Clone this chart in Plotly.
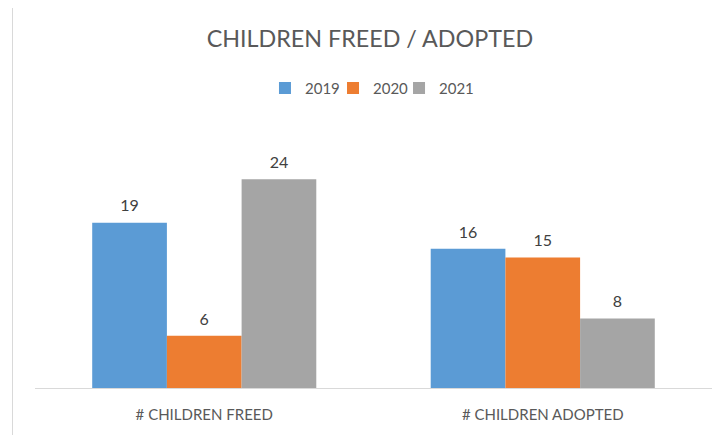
import plotly.graph_objects as go

categories = ["# CHILDREN FREED", "# CHILDREN ADOPTED"]
series_names = ["2019", "2020", "2021"]
values_2019 = [19, 16]
values_2020 = [6, 15]
values_2021 = [24, 8]
colors = ["#5b9bd5", "#ed7d31", "#a5a5a5"]

series_values = [values_2019, values_2020, values_2021]
FONT = "Lato, 'Liberation Sans', sans-serif"

# the page body adds an 8px offset; the figure is sized to fill the rest of the window
W, H = 718, 427
legend_ids = ["legend", "legend2", "legend3"]
legend_x = [0.3397, 0.4402, 0.5377]

fig = go.Figure()
for name, vals, col, lg in zip(series_names, series_values, colors, legend_ids):
    fig.add_trace(go.Bar(
        x=categories, y=vals, name=name, marker=dict(color=col, line=dict(width=0)),
        offsetgroup=name, alignmentgroup="a", legend=lg,
    ))
for name, vals in zip(series_names, series_values):
    fig.add_trace(go.Scatter(
        x=categories, y=vals, mode="markers+text", text=[str(v) for v in vals],
        textposition="top center", showlegend=False, hoverinfo="skip",
        offsetgroup=name, alignmentgroup="a",
        marker=dict(size=10, opacity=0),
        textfont=dict(family=FONT, size=16, color="#404040"),
    ))

legend_common = dict(orientation="h", xanchor="left", y=1.148, yanchor="middle",
                     font=dict(family=FONT, size=15, color="#595959"),
                     bgcolor="rgba(0,0,0,0)", itemwidth=30)
fig.update_layout(
    width=W, height=H,
    margin=dict(l=27, r=14, t=119, b=45),
    paper_bgcolor="white", plot_bgcolor="white",
    barmode="group", scattermode="group", bargap=0.338, bargroupgap=0,
    title=dict(text="CHILDREN FREED / ADOPTED", x=0.504, xanchor="center",
               y=0.927, yanchor="middle",
               font=dict(family=FONT, size=23.3, color="#595959")),
    legend=dict(x=legend_x[0], **legend_common),
    legend2=dict(x=legend_x[1], **legend_common),
    legend3=dict(x=legend_x[2], **legend_common),
    showlegend=True,
)
fig.update_xaxes(showline=True, linecolor="#d9d9d9", linewidth=1, ticks="",
                 ticklabelstandoff=13,
                 tickfont=dict(family=FONT, size=15, color="#595959"),
                 showgrid=False, zeroline=False)
fig.update_yaxes(range=[0, 30], visible=False, showgrid=False, zeroline=False)

fig.add_shape(type="rect", xref="paper", yref="paper",
              x0=(12.5 - 35) / 677, x1=(740 - 35) / 677,
              y0=(390 - 450) / 263, y1=(390 - 6.5) / 263,
              line=dict(color="#d9d9d9", width=1), fillcolor="rgba(0,0,0,0)", layer="below")

fig.write_html("out.html")
